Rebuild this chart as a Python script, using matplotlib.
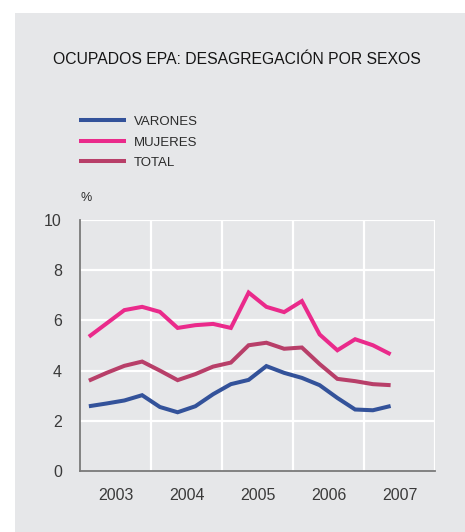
import matplotlib
matplotlib.use("Agg")
import matplotlib.pyplot as plt
from matplotlib.patches import Rectangle
import numpy as np

# ==========================
# DATA (quarterly, 2003 Q1 - 2007 Q2)
# ==========================

years = ["2003", "2004", "2005", "2006", "2007"]

varones = [2.58, 2.69, 2.81, 3.02, 2.55, 2.34, 2.58, 3.06, 3.46,
           3.63, 4.18, 3.91, 3.71, 3.42, 2.91, 2.45, 2.42, 2.59]
mujeres = [5.35, 5.88, 6.41, 6.54, 6.34, 5.70, 5.81, 5.86, 5.70,
           7.11, 6.54, 6.33, 6.77, 5.44, 4.81, 5.25, 5.01, 4.65]
total = [3.60, 3.91, 4.19, 4.36, 4.00, 3.62, 3.86, 4.16, 4.32,
         5.01, 5.11, 4.87, 4.92, 4.26, 3.67, 3.58, 3.46, 3.42]

series_labels = ["VARONES", "MUJERES", "TOTAL"]
colors = ["#33529a", "#ea2a8b", "#b83f69"]

bg = "#e6e7e9"
text_col = "#2b2b2b"

plt.rcParams['font.family'] = ['Liberation Sans', 'DejaVu Sans']

fig = plt.figure(figsize=(4.65, 5.32), dpi=100)
fig.patch.set_facecolor("white")

# grey panel behind everything
fig.patches.append(Rectangle((15 / 465, 0), 1 - 15 / 465, 1 - 13 / 532,
                             transform=fig.transFigure, facecolor=bg,
                             edgecolor="none", zorder=-10))

ax = fig.add_axes([80 / 465, 1 - 471 / 532, 355 / 465, 251 / 532])
ax.set_facecolor(bg)
ax.set_zorder(1)

# x positions: quarter centres, one unit per year
x = (np.arange(len(varones)) + 0.5) / 4.0

for vals, c, lab in zip([varones, mujeres, total], colors, series_labels):
    ax.plot(x, vals, color=c, lw=2.9, label=lab, solid_joinstyle="miter",
            solid_capstyle="butt", zorder=3)

ax.set_xlim(0, 5)
ax.set_ylim(0, 10)

# grid
for yv in [2, 4, 6, 8, 10]:
    ax.axhline(yv, color="white", lw=1.6, zorder=1)
for xv in [1, 2, 3, 4, 5]:
    ax.axvline(xv, color="white", lw=1.6, zorder=1)

ax.set_yticks([0, 2, 4, 6, 8, 10])
ax.set_yticklabels(["0", "2", "4", "6", "8", "10"])
ax.set_xticks(np.arange(len(years)) + 0.5)
ax.set_xticklabels(years)
ax.tick_params(axis="both", length=0, labelsize=11.5, colors="#3a3a3a")
ax.tick_params(axis="y", pad=13)
ax.tick_params(axis="x", pad=12)

for side in ["top", "right"]:
    ax.spines[side].set_visible(False)
for side in ["left", "bottom"]:
    ax.spines[side].set_color("#7a7a7a")
    ax.spines[side].set_linewidth(1.3)

# title, legend, unit label
fig.text(53 / 465, 1 - 60 / 532, "OCUPADOS EPA: DESAGREGACIÓN POR SEXOS",
         fontsize=11.3, color="#151515", va="center", ha="left")

handles, labels = ax.get_legend_handles_labels()
leg = fig.legend(handles, labels, loc="upper left",
                 bbox_to_anchor=(67 / 465, 1 - 104 / 532),
                 frameon=False, fontsize=9.5, handlelength=3.6,
                 handletextpad=0.55, labelspacing=0.62, labelcolor=text_col)

fig.text(80 / 465, 1 - 198 / 532, "%", fontsize=9, color=text_col,
         ha="left", va="center")

plt.savefig("out.png", dpi=100, facecolor=fig.get_facecolor())
